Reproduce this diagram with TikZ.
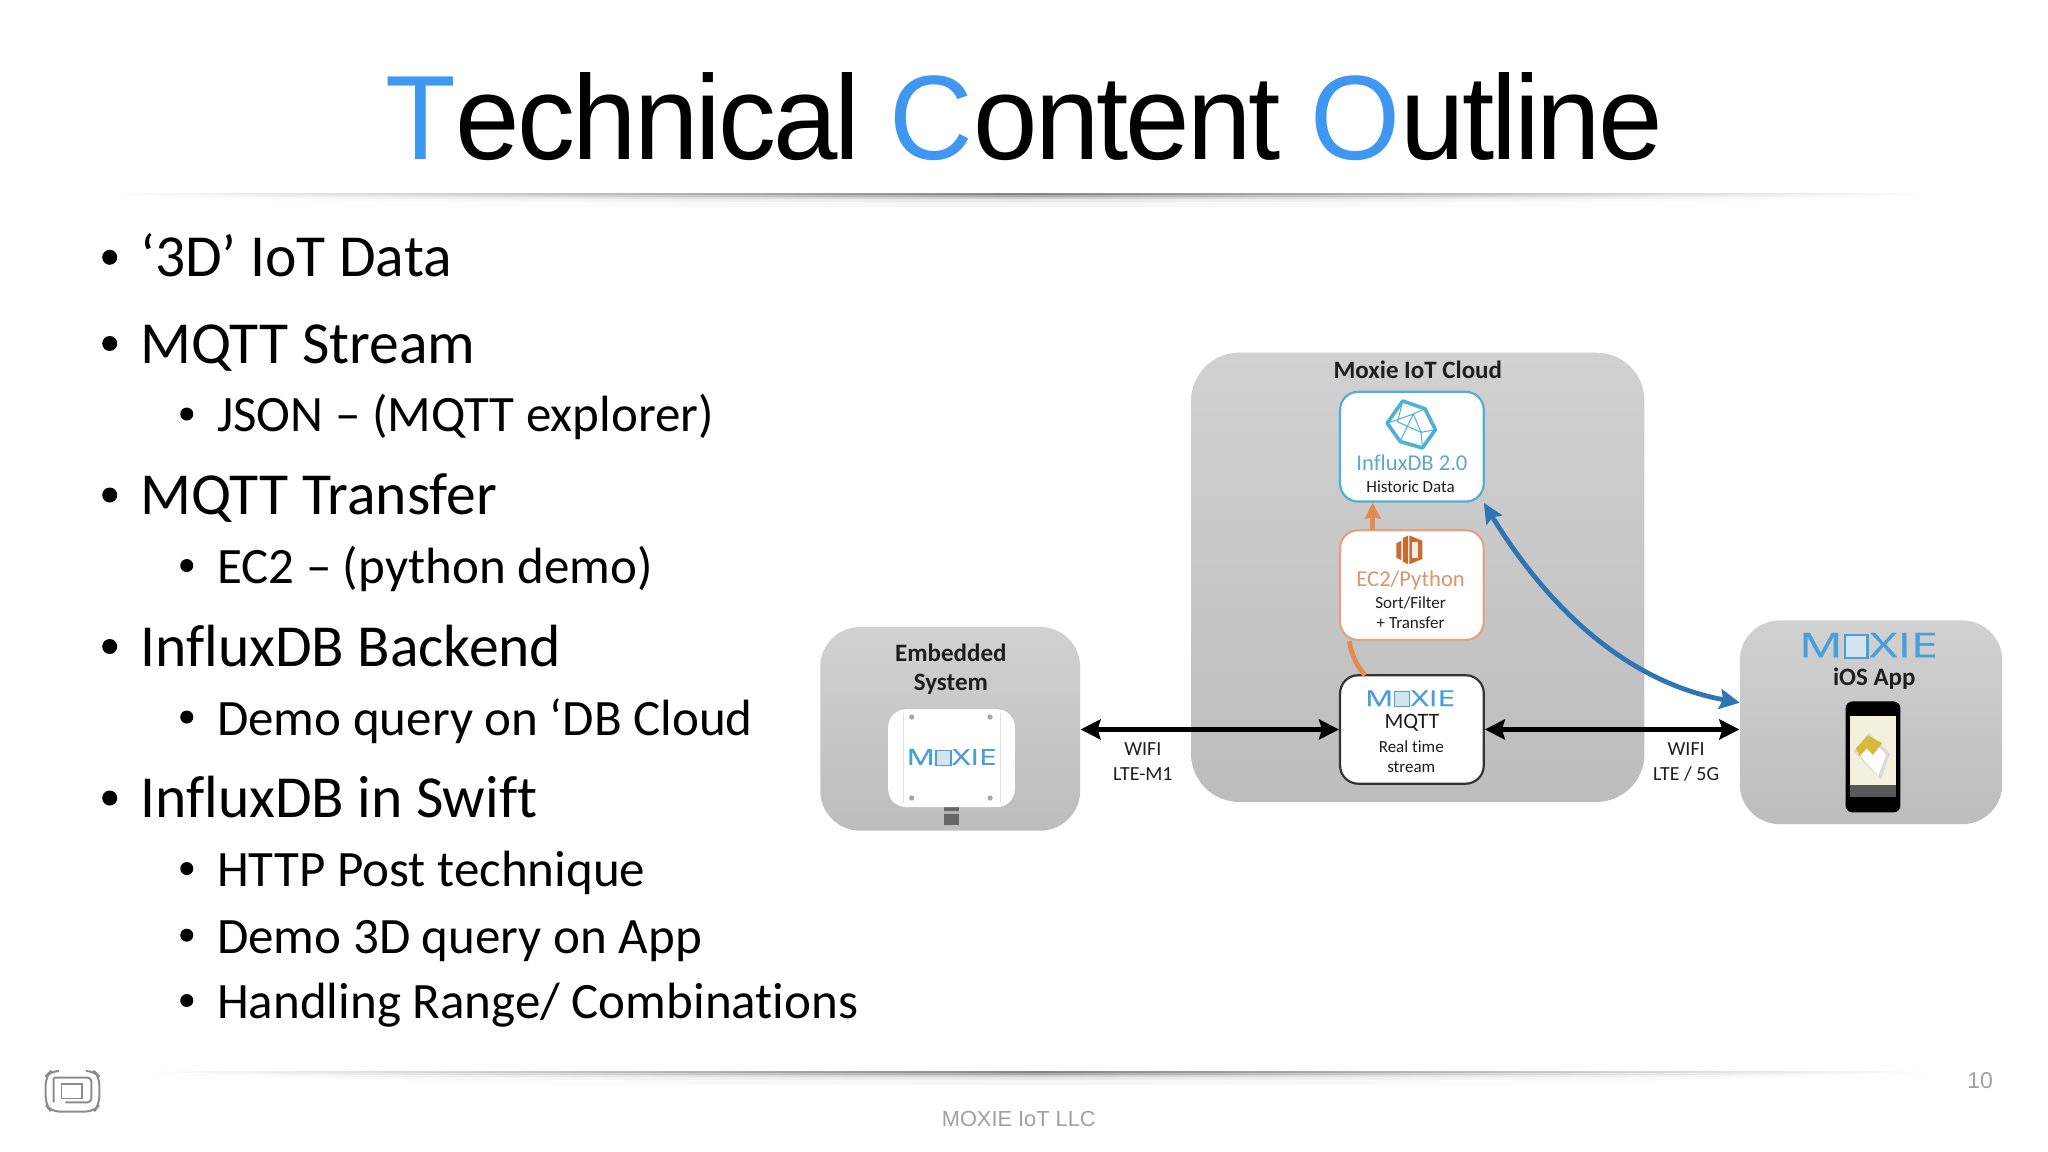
\documentclass[tikz,border=0pt]{standalone}
\usepackage{fontspec}
\setmainfont[Ligatures=CommonOff]{Carlito}
\newfontfamily\titlefont{Liberation Sans}
\newfontfamily\logofont[FakeBold=0.6]{Open Sans}
\usetikzlibrary{arrows.meta,shapes.geometric}
\definecolor{tblue}{HTML}{3F97F2}
\definecolor{mb}{HTML}{4A9FDB}
\definecolor{mp}{HTML}{D5E3EE}
\definecolor{inf}{HTML}{4FB0D6}
\definecolor{infd}{HTML}{5FA8CC}
\definecolor{org}{HTML}{E58A4E}
\definecolor{orgi}{HTML}{CC6A30}
\definecolor{orgb}{HTML}{DDA585}
\definecolor{orgt}{HTML}{D8976C}
\definecolor{arrblue}{HTML}{2E75B6}
\definecolor{ink}{HTML}{1E1E1E}
\definecolor{foot}{HTML}{A0A0A0}
\definecolor{scr}{HTML}{F3F1DC}
\definecolor{gold}{HTML}{D8B93A}
\newcommand{\moxie}[1]{{\logofont\fontsize{#1}{#1}\selectfont\textcolor{mb}{\scalebox{1.42}[1]{M\kern.02em\setlength{\fboxsep}{0pt}\setlength{\fboxrule}{.05em}\fcolorbox{mb}{mp}{\rule{0pt}{.62em}\hspace{.42em}}\kern.02em XIE}}}}
\tikzset{
 wh/.style 2 args={minimum width=#1*0.653pt,minimum height=#2*0.653pt,inner sep=0pt},
 graybox/.style={rectangle,rounded corners=#1,top color=black!18,bottom color=black!26},
 whitebox/.style={rectangle,rounded corners=9pt,fill=white,line width=1.1pt},
 lone/.style={anchor=base west,inner sep=0pt,font=\fontsize{29.8}{31}\selectfont,text=black},
 ltwo/.style={anchor=base west,inner sep=0pt,font=\fontsize{25.5}{27}\selectfont,text=black},
 bone/.style={circle,fill=black,inner sep=0pt,minimum size=7.5pt},
 btwo/.style={circle,fill=black,inner sep=0pt,minimum size=6.5pt},
 lab/.style={inner sep=0pt,font=\fontsize{10}{12}\selectfont,text=ink},
 blab/.style={inner sep=0pt,font=\bfseries\fontsize{12.5}{14}\selectfont,text=ink},
 bigarrow/.style={line width=2.4pt,{Stealth[length=10pt,width=10pt,inset=1.5pt]}-{Stealth[length=10pt,width=10pt,inset=1.5pt]}},
 rulea/.style={left color=white,right color=white,middle color=black!#1},
}
\begin{document}
\begin{tikzpicture}[x=0.653pt,y=-0.653pt]
\useasboundingbox (0,0) rectangle (1568,882);
\fill[white] (0,0) rectangle (1568,882);
% title
\node[anchor=base,inner sep=0pt] (title) at (784,122) {\scalebox{0.965}[1]{\titlefont\fontsize{60}{62}\selectfont\addfontfeature{LetterSpace=-2.5}\textcolor{tblue}{T}echnical \textcolor{tblue}{C}ontent \textcolor{tblue}{O}utline}};
% rules
\shade[rulea=48] (80,148) rectangle (1480,150);
\shade[rulea=34] (110,150) rectangle (1450,151.5);
\shade[rulea=20] (140,151.5) rectangle (1420,153);
\shade[rulea=9] (170,153) rectangle (1390,155);
\shade[rulea=4] (210,155) rectangle (1350,158);
\shade[rulea=48] (110,820) rectangle (1480,822);
\shade[rulea=34] (130,822) rectangle (1450,823.5);
\shade[rulea=20] (160,823.5) rectangle (1420,825);
\shade[rulea=9] (190,825) rectangle (1390,827);
\shade[rulea=4] (230,827) rectangle (1350,830);
% bullets
\node[bone] (b1) at (84,197) {}; \node[lone] (t1) at (107,212) {‘3D’ IoT Data};
\node[bone] (b2) at (84,263) {}; \node[lone] (t2) at (107,278) {MQTT Stream};
\node[btwo] (b3) at (143,317) {}; \node[ltwo] (t3) at (166,330) {JSON – (MQTT explorer)};
\node[bone] (b4) at (84,379) {}; \node[lone] (t4) at (107,394) {MQTT Transfer};
\node[btwo] (b5) at (143,433) {}; \node[ltwo] (t5) at (166,446.5) {EC2 – (python demo)};
\node[bone] (b6) at (84,495) {}; \node[lone] (t6) at (107,510) {InfluxDB Backend};
\node[btwo] (b7) at (143,549) {}; \node[ltwo] (t7) at (166,563) {Demo query on ‘DB Cloud};
\node[bone] (b8) at (84,611) {}; \node[lone] (t8) at (107,626) {InfluxDB in Swift};
\node[btwo] (b9) at (143,665) {}; \node[ltwo] (t9) at (166,679) {HTTP Post technique};
\node[btwo] (b10) at (143,716) {}; \node[ltwo] (t10) at (166,730) {Demo 3D query on App};
\node[btwo] (b11) at (143,766) {}; \node[ltwo] (t11) at (166,780) {Handling Range/ Combinations};
% grey containers
\node[graybox=24pt,wh={347}{344}] (cloud) at (1085.5,442) {};
\node[graybox=20pt,wh={199}{156}] (emb) at (727.5,558) {};
\node[graybox=20pt,wh={201}{156}] (ios) at (1432.5,553) {};
% inner boxes
\node[whitebox,draw=inf,wh={110}{84}] (influx) at (1081,342) {};
\node[whitebox,draw=orgb,wh={110}{84}] (ec2) at (1081,448) {};
\node[whitebox,draw=black!80,wh={110}{83}] (mqtt) at (1081,558.5) {};
% arrows
\draw[bigarrow] (emb.east |- mqtt.west) -- (mqtt.west);
\draw[bigarrow] (mqtt.east) -- (mqtt.east -| ios.west);
\coordinate (bluea) at (1136,385);
\coordinate (blueb) at (1332,538);
\draw[arrblue,line width=2.4pt,{Stealth[length=10pt,width=9pt,inset=1.5pt]}-{Stealth[length=10pt,width=10pt,inset=1.5pt]}] (bluea) .. controls (1185,465) and (1245,522) .. (blueb);
\coordinate (orga) at (1045,517);
\coordinate (orgb) at (1033,491);
\draw[org,line width=2.4pt] (orga) .. controls (1039,510) and (1035,502) .. (orgb);
\coordinate (orgc) at (1051,406);
\coordinate (orgd) at (1051,385);
\draw[org,line width=2.4pt,-{Stealth[length=8pt,width=8pt,inset=1pt]}] (orgc) -- (orgd);
% texts in the diagram
\node[blab] (tcloud) at (1085.5,283.5) {Moxie IoT Cloud};
\node[blab] (tem1) at (728,499.5) {Embedded};
\node[blab] (tem2) at (728,524) {System};
\node[blab] (tios) at (1435,520) {iOS App};
\node[lab] (w1) at (875,573.5) {WIFI};
\node[lab] (w2) at (875,592.5) {LTE-M1};
\node[lab] (w3) at (1291,573.5) {WIFI};
\node[lab] (w4) at (1291,592.5) {LTE / 5G};
\node[lab,text=infd,font=\fontsize{11.3}{12}\selectfont] (ti) at (1081,354) {InfluxDB 2.0};
\node[lab,font=\fontsize{8.5}{10}\selectfont] (th) at (1080,372.5) {Historic Data};
\node[lab,text=orgt,font=\fontsize{11.3}{12}\selectfont] (te) at (1080,444.5) {EC2/Python};
\node[lab,font=\fontsize{8.5}{10}\selectfont] (ts) at (1080,462) {Sort/Filter};
\node[lab,font=\fontsize{8.5}{10}\selectfont] (tt) at (1080,477) {+ Transfer};
\node[lab,font=\fontsize{11}{12}\selectfont] (tm) at (1081,553.5) {MQTT};
\node[lab,font=\fontsize{8.5}{10}\selectfont] (tr) at (1080.5,571.5) {Real time};
\node[lab,font=\fontsize{8.5}{10}\selectfont] (tq) at (1080.5,587) {stream};
\node[inner sep=0pt] (lm) at (1079.5,535) {\moxie{11}};
% influx icon
\begin{scope}[shift={(1080,325)}]
\draw[inf,line width=1.8pt,line join=round,fill=white] (-6,-18) -- (11,-12) -- (19,4) -- (9,18) -- (-8,13) -- (-18,-1) -- cycle;
\draw[inf,line width=.5pt] (-6,-18) -- (-10,-2) (11,-12) -- (2,-8) -- (-18,-1) (2,-8) -- (8,6) -- (19,4) (-10,-2) -- (8,6) -- (9,18) (-8,13) -- (2,-8);
\end{scope}
% ec2 icon
\begin{scope}[shift={(1079,421)}]
\fill[orgi] (-10,-5) -- (-6,-7) -- (-6,8) -- (-10,6) -- cycle;
\fill[orgi] (-5,-9) -- (-1,-11) -- (-1,11) -- (-5,9) -- cycle;
\fill[orgi] (0,-11) -- (10,-7) -- (10,7) -- (0,11) -- cycle;
\fill[white!85!org] (2,-6) rectangle (7,6);
\end{scope}
% embedded device
\fill[black!60] (723,617) rectangle (734,632);
\fill[black!30] (723,621) rectangle (734,623);
\node[rectangle,rounded corners=9pt,fill=white,wh={97}{75}] (dev) at (728.5,580.5) {};
\draw[black!12,line width=.5pt] (692,546) -- (692,615) (766,546) -- (766,615);
\fill[black!35] (698,549) circle (2); \fill[black!35] (758,549) circle (2);
\fill[black!35] (698,611) circle (2); \fill[black!35] (758,611) circle (2);
\node[inner sep=0pt] (ld) at (728.5,580) {\moxie{11}};
% ios logo and phone
\node[inner sep=0pt] (li) at (1430.5,494.5) {\moxie{17}};
\fill[black,rounded corners=3.5pt] (1413,537) rectangle (1455,622);
\fill[scr] (1416.5,548) rectangle (1451.5,610);
\fill[black!65] (1416.5,601) rectangle (1451.5,610);
\fill[black!14] (1419,575) -- (1431,561) -- (1447,577) -- (1440,597) -- cycle;
\fill[white] (1422,576) -- (1432,565) -- (1444,578) -- (1438,594) -- cycle;
\fill[gold] (1421,573) -- (1430,563) -- (1441,569) -- (1434,578) -- (1429,573) -- (1424,579) -- cycle;
% footer
\node[inner sep=0pt,text=foot,font=\titlefont\fontsize{10.9}{14}\selectfont] (foot) at (780,857) {MOXIE IoT LLC};
\node[inner sep=0pt,text=foot,font=\titlefont\fontsize{11.5}{14}\selectfont] (page) at (1516,827) {10};
\begin{scope}[black!45]
\draw[line width=1pt,rounded corners=4pt] (43,820) -- (39,820) -- (35,824) -- (35,846) -- (39,851) -- (72,851) -- (76,846) -- (76,824) -- (72,820) -- (67,820);
\draw[line width=1pt,rounded corners=2pt] (41,825) -- (41,844) (41,825) -- (70,825) -- (70,844) -- (50,844);
\draw[line width=.8pt] (47,830) rectangle (63,841);
\end{scope}
\end{tikzpicture}
\end{document}
